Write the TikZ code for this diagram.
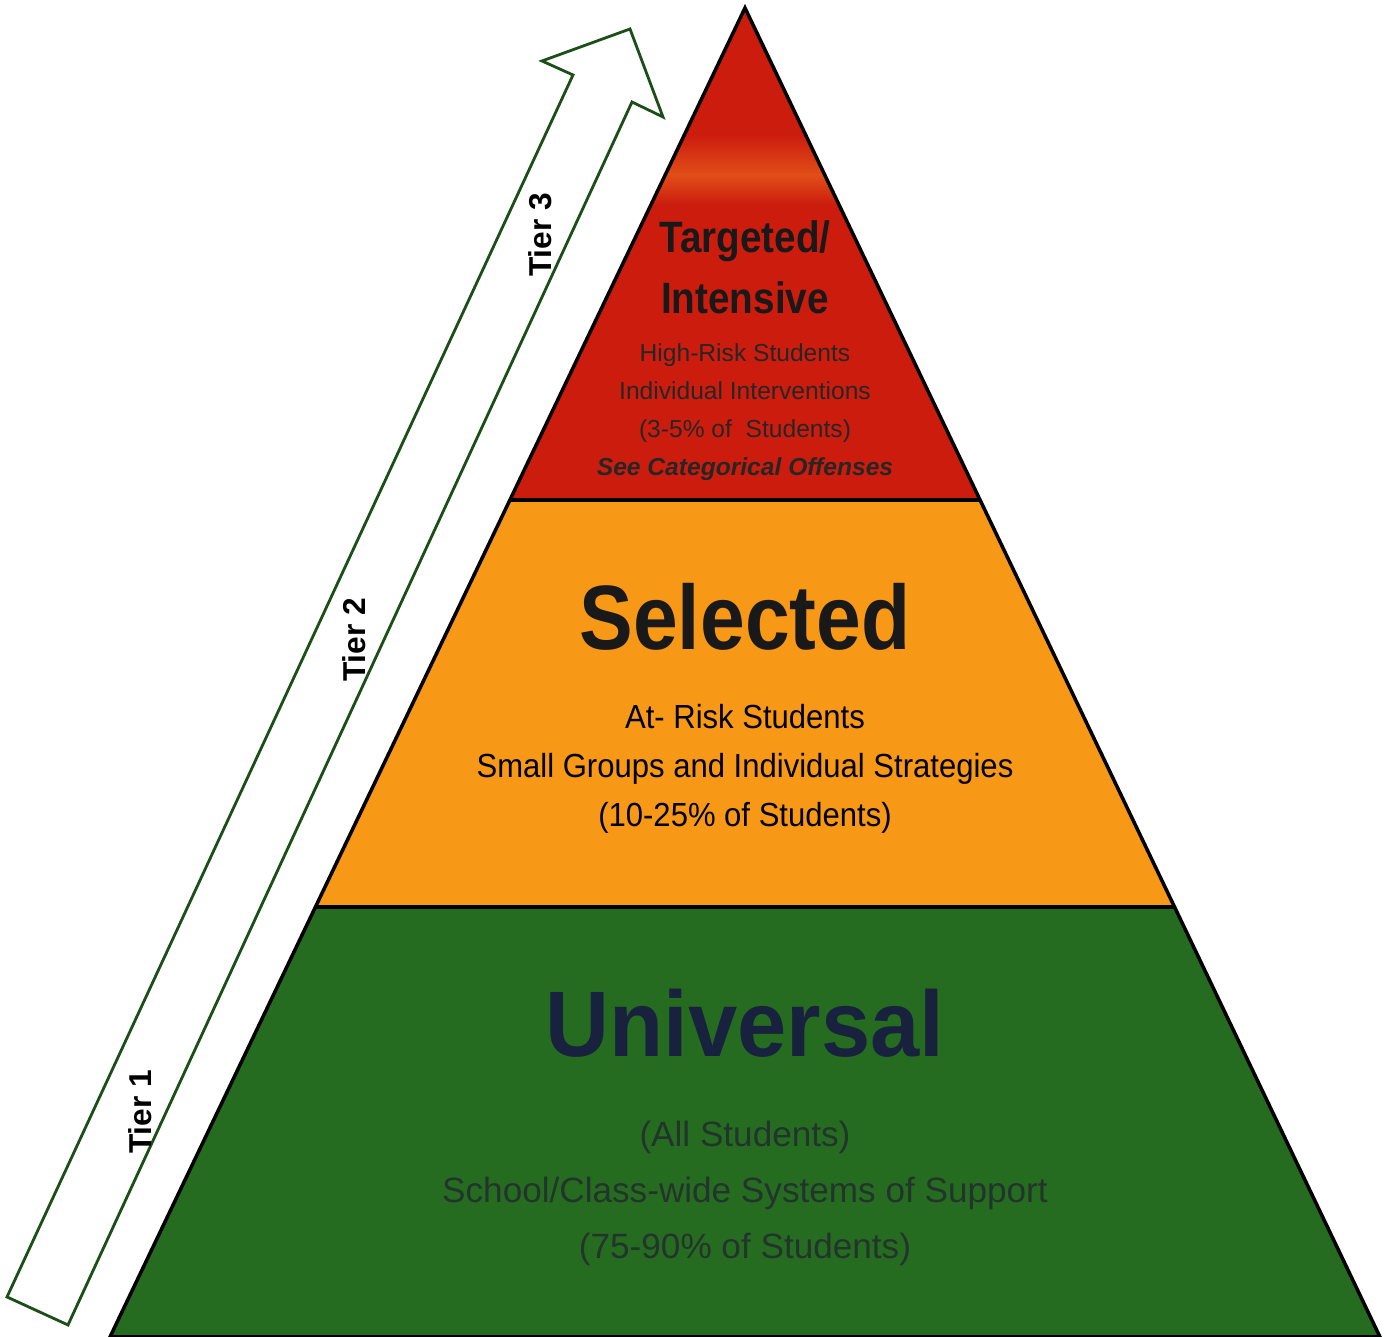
\documentclass[tikz,border=0pt]{standalone}
\usepackage{fontspec}
\setmainfont{Liberation Sans}
\newfontfamily\headfont{Liberation Sans}[FakeStretch=0.88]
\newfontfamily\unifont{Liberation Sans}[FakeStretch=0.95]
\newfontfamily\bodyfont{Liberation Sans}[FakeStretch=0.93]
\usetikzlibrary{calc}
\definecolor{tierred}{RGB}{204,28,14}
\definecolor{tierglow}{RGB}{224,78,24}
\definecolor{tierorange}{RGB}{247,152,22}
\definecolor{tiergreen}{RGB}{38,108,32}
\definecolor{arrowgreen}{RGB}{28,78,24}
\definecolor{navytext}{RGB}{24,34,62}
\definecolor{greentext}{RGB}{34,52,44}

\begin{document}
\begin{tikzpicture}[
    tier/.style={draw=black, line width=1pt, line join=miter},
    arrowline/.style={draw=arrowgreen, line width=0.8pt, fill=white, line join=miter},
    heading/.style={anchor=base, inner sep=0pt, text=black!90,
        font=\headfont\bfseries\fontsize{12.5}{15}\selectfont},
    bigheading/.style={anchor=base, inner sep=0pt, text=black!90,
        font=\headfont\bfseries\fontsize{26}{30}\selectfont},
    redline/.style={anchor=base, inner sep=0pt, text=black!85,
        font=\fontsize{7}{8}\selectfont},
    orangeline/.style={anchor=base, inner sep=0pt, text=black,
        font=\bodyfont\fontsize{9.5}{11}\selectfont},
    greenline/.style={anchor=base, inner sep=0pt, text=greentext,
        font=\fontsize{10}{12}\selectfont},
    tierlabel/.style={rotate=90, inner sep=0pt, text=black,
        font=\bfseries\fontsize{9}{10}\selectfont}
]
\useasboundingbox (0,0) rectangle (13.87,13.37);

\coordinate (apex) at (7.45,13.29);
\coordinate (baseL) at (1.10,0);
\coordinate (baseR) at (13.80,0);
\coordinate (redL) at (5.10,8.37);
\coordinate (redR) at (9.80,8.37);
\coordinate (orgL) at (3.155,4.30);
\coordinate (orgR) at (11.745,4.30);

\fill[tiergreen] (orgL) -- (orgR) -- (baseR) -- (baseL) -- cycle;
\fill[tierorange] (redL) -- (redR) -- (orgR) -- (orgL) -- cycle;
\fill[tierred] (apex) -- (redR) -- (redL) -- cycle;
\begin{scope}
  \clip (apex) -- (redR) -- (redL) -- cycle;
  \shade[top color=tierred, bottom color=tierglow] (4,12.02) rectangle (11,11.62);
  \shade[top color=tierglow, bottom color=tierred] (4,11.62) rectangle (11,11.32);
\end{scope}
\draw[tier] (apex) -- (baseR) -- (baseL) -- cycle;
\draw[tier, line width=1.2pt] (redL) -- (redR);
\draw[tier, line width=1.2pt] (orgL) -- (orgR);

\draw[arrowline] (0.07,0.40) -- (5.73,12.62) -- (5.42,12.76) -- (6.30,13.08)
  -- (6.63,12.20) -- (6.32,12.35) -- (0.68,0.12) -- cycle;

\node (tier1) [tierlabel] at (1.40,2.25) {Tier 1};
\node (tier2) [tierlabel] at (3.54,6.97) {Tier 2};
\node (tier3) [tierlabel] at (5.40,11.02) {Tier 3};

\node (targeted) [heading] at (7.45,10.84) {Targeted/};
\node (intensive) [heading] at (7.45,10.23) {Intensive};
\node (highrisk) [redline] at (7.45,9.75) {High-Risk Students};
\node (individual) [redline] at (7.45,9.37) {Individual Interventions};
\node (redshare) [redline] at (7.45,8.99) {(3-5\% of\ \ Students)};
\node (offenses) [redline, font=\bfseries\itshape\fontsize{7}{8}\selectfont] at (7.45,8.61) {See Categorical Offenses};

\node (selected) [bigheading] at (7.45,6.87) {Selected};
\node (atrisk) [orangeline] at (7.45,6.08) {At- Risk Students};
\node (groups) [orangeline] at (7.45,5.59) {Small Groups and Individual Strategies};
\node (orangeshare) [orangeline] at (7.45,5.10) {(10-25\% of Students)};

\node (universal) [bigheading, text=navytext, font=\unifont\bfseries\fontsize{26.5}{30}\selectfont] at (7.45,2.80) {Universal};
\node (allstudents) [greenline] at (7.45,1.90) {(All Students)};
\node (systems) [greenline] at (7.45,1.34) {School/Class-wide Systems of Support};
\node (greenshare) [greenline] at (7.45,0.78) {(75-90\% of Students)};
\end{tikzpicture}
\end{document}
